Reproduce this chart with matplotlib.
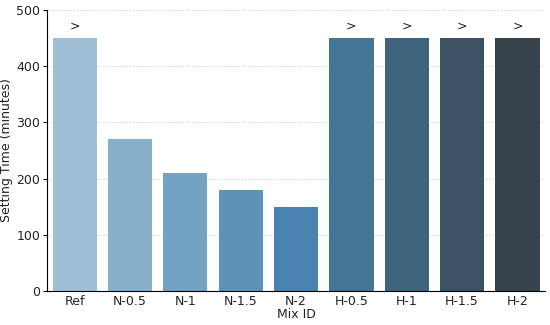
import matplotlib
matplotlib.use("Agg")
import matplotlib.pyplot as plt
import seaborn as sns
import numpy as np

mix_ids = ["Ref", "N-0.5", "N-1", "N-1.5", "N-2", "H-0.5", "H-1", "H-1.5", "H-2"]
setting_time = [450, 270, 210, 180, 150, 450, 450, 450, 450]
exceeds = [True, False, False, False, False, True, True, True, True]

pal = sns.color_palette("Blues_d", len(mix_ids))
pal = [sns.desaturate(c, 0.75) for c in pal]

plt.rcParams["font.size"] = 9
plt.rcParams["text.color"] = "#222222"
plt.rcParams["axes.labelcolor"] = "#222222"
plt.rcParams["xtick.labelcolor"] = "#222222"
plt.rcParams["ytick.labelcolor"] = "#222222"
fig, ax = plt.subplots(figsize=(5.5, 3.25), dpi=100)
x = np.arange(len(mix_ids))
ax.bar(x, setting_time, width=0.8, color=pal, zorder=2)
for xi, v, e in zip(x, setting_time, exceeds):
    if e:
        ax.text(xi, v + 10, ">", ha="center", va="bottom", fontsize=9, color="#222222")

ax.set_xticks(x)
ax.set_xticklabels(mix_ids)
ax.set_xlim(-0.5, len(mix_ids) - 0.5)
ax.set_ylim(0, 500)
ax.set_yticks([0, 100, 200, 300, 400, 500])
ax.set_xlabel("Mix ID", labelpad=0)
ax.set_ylabel("Setting Time (minutes)", labelpad=2)
ax.grid(axis="y", linestyle=":", color="#cccccc", linewidth=0.8, zorder=0)
ax.spines["top"].set_visible(False)
ax.spines["right"].set_visible(False)
ax.tick_params(axis="x", direction="in", length=3, pad=3)
ax.tick_params(axis="y", length=3, pad=2)
fig.subplots_adjust(left=0.0855, right=0.991, top=0.969, bottom=0.105)
fig.savefig("out.png", dpi=100)
